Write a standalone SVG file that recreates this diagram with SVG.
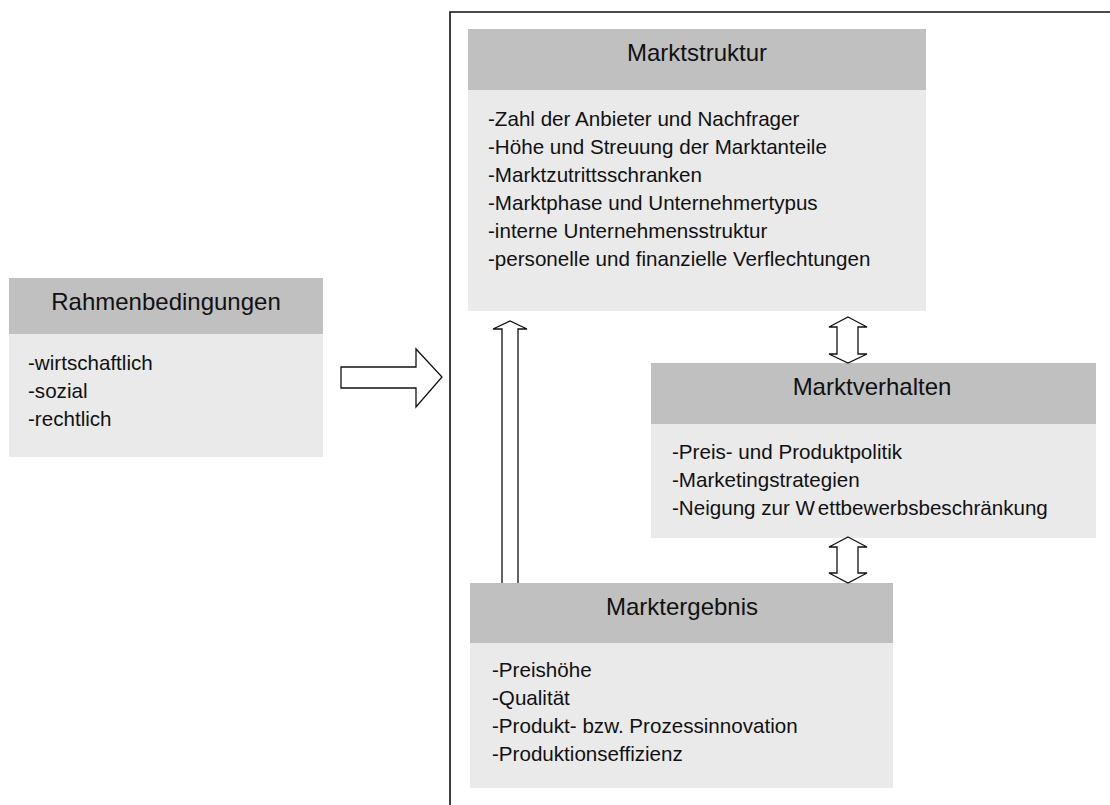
<svg xmlns="http://www.w3.org/2000/svg" width="1110" height="805" viewBox="0 0 1110 805">
<style>
.hd{fill:#c0c0c0}
.bd{fill:#eaeaea}
.t{font-family:"Liberation Sans",Arial,sans-serif;font-size:24px;fill:#111;text-anchor:middle}
.b{font-family:"Liberation Sans",Arial,sans-serif;font-size:20.6px;fill:#111}
.ar{fill:#fff;stroke:#111;stroke-width:1.3;stroke-linejoin:miter}
.fr{fill:none;stroke:#111;stroke-width:1.6}
</style>
<rect width="1110" height="805" fill="#fff"/>
<path class="fr" d="M1112 12 H450 V807"/>
<g id="rahmenbedingungen">
<rect class="hd" x="9" y="278" width="314" height="56"/>
<rect class="bd" x="9" y="334" width="314" height="123"/>
<text class="t" x="166" y="310">Rahmenbedingungen</text>
<text class="b" x="28" y="370">-wirtschaftlich</text>
<text class="b" x="28" y="398">-sozial</text>
<text class="b" x="28" y="426">-rechtlich</text>
</g>
<g id="marktstruktur">
<rect class="hd" x="468" y="29" width="458" height="61"/>
<rect class="bd" x="468" y="90" width="458" height="221"/>
<text class="t" x="697" y="61">Marktstruktur</text>
<text class="b" x="488" y="126">-Zahl der Anbieter und Nachfrager</text>
<text class="b" x="488" y="154">-Höhe und Streuung der Marktanteile</text>
<text class="b" x="488" y="182">-Marktzutrittsschranken</text>
<text class="b" x="488" y="210">-Marktphase und Unternehmertypus</text>
<text class="b" x="488" y="238">-interne Unternehmensstruktur</text>
<text class="b" x="488" y="266">-personelle und finanzielle Verflechtungen</text>
</g>
<g id="marktverhalten">
<rect class="hd" x="651" y="363" width="445" height="61"/>
<rect class="bd" x="651" y="424" width="445" height="114"/>
<text class="t" x="872" y="395">Marktverhalten</text>
<text class="b" x="672" y="459">-Preis- und Produktpolitik</text>
<text class="b" x="672" y="487">-Marketingstrategien</text>
<text class="b" x="672" y="515">-Neigung zur W<tspan dx="3">ettbewerbsbeschränkung</tspan></text>
</g>
<g id="marktergebnis">
<rect class="hd" x="470" y="583" width="423" height="60"/>
<rect class="bd" x="470" y="643" width="423" height="145"/>
<text class="t" x="682" y="615">Marktergebnis</text>
<text class="b" x="492" y="677">-Preishöhe</text>
<text class="b" x="492" y="705">-Qualität</text>
<text class="b" x="492" y="733">-Produkt- bzw. Prozessinnovation</text>
<text class="b" x="492" y="761">-Produktionseffizienz</text>
</g>
<g id="connectors">
<polygon class="ar" points="341,367 416,367 416,349 442,377 416,407 416,388 341,388"/>
<path class="ar" d="M502,583 V329 H493 L510,321 L527,329 H518 V583"/>
<polygon class="ar" points="848,317 867,327 858,327 858,354 867,354 848,363 829,354 837,354 837,327 829,327"/>
<polygon class="ar" points="848,537 867,547 858,547 858,573 867,573 848,583 829,573 837,573 837,547 829,547"/>
</g>
</svg>
